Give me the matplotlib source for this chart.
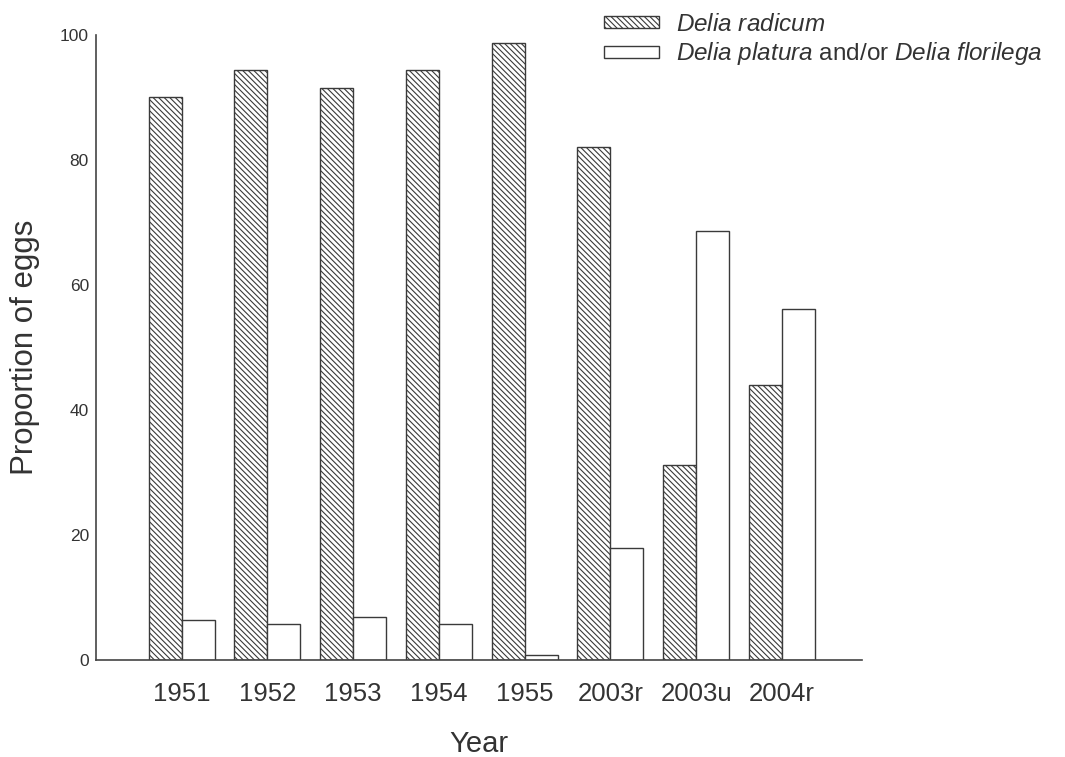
import matplotlib

matplotlib.use("Agg")

import matplotlib.pyplot as plt
import numpy as np

plt.rcParams["font.family"] = ["Liberation Sans", "DejaVu Sans"]
plt.rcParams["mathtext.fontset"] = "custom"
plt.rcParams["mathtext.rm"] = "Liberation Sans"
plt.rcParams["mathtext.it"] = "Liberation Sans:italic"
plt.rcParams["hatch.linewidth"] = 0.8
plt.rcParams["hatch.color"] = "#4a4a4a"

years = ["1951", "1952", "1953", "1954", "1955", "2003r", "2003u", "2004r"]
radicum = [90.0, 94.3, 91.5, 94.3, 98.7, 82.0, 31.2, 44.0]
platura_florilega = [6.4, 5.8, 6.9, 5.8, 0.8, 17.9, 68.6, 56.1]

INK = "#333333"

fig = plt.figure(figsize=(10.65, 7.57), dpi=100)
ax = fig.add_axes([0.090, 0.128, 0.719, 0.826])

x = np.arange(len(years))
width = 0.385

ax.bar(x - width / 2, radicum, width, facecolor="white", edgecolor="#3a3a3a",
       linewidth=1.0, hatch="\\\\\\\\\\\\", label=r"$\it{Delia\ radicum}$")
ax.bar(x + width / 2, platura_florilega, width, facecolor="white", edgecolor="#3a3a3a",
       linewidth=1.0,
       label=r"$\it{Delia\ platura}$ and/or $\it{Delia\ florilega}$")

ax.set_xlim(-1.0, 7.93)
ax.set_ylim(0, 100)
ax.set_xticks(x)
ax.set_xticklabels(years, fontsize=18.5, color=INK)
ax.set_yticks([0, 20, 40, 60, 80, 100])
ax.tick_params(axis="y", labelsize=12.5, colors=INK, length=0, pad=5)
ax.tick_params(axis="x", length=0, pad=16)

for side in ("top", "right"):
    ax.spines[side].set_visible(False)
for side in ("left", "bottom"):
    ax.spines[side].set_color("#444444")
    ax.spines[side].set_linewidth(1.2)

ax.set_xlabel("Year", fontsize=21, color=INK)
ax.xaxis.set_label_coords(0.5, -0.111)
ax.set_ylabel("Proportion of eggs", fontsize=22.5, color=INK)
ax.yaxis.set_label_coords(-0.073, 0.5)

fig.legend(loc="upper left", bbox_to_anchor=(604 / 1065, 0.982), frameon=False,
           fontsize=17.5, handlelength=2.25, handleheight=0.35, handletextpad=0.72,
           labelspacing=0.2, borderpad=0, borderaxespad=0, labelcolor=INK)

fig.savefig("out.png", dpi=100)
